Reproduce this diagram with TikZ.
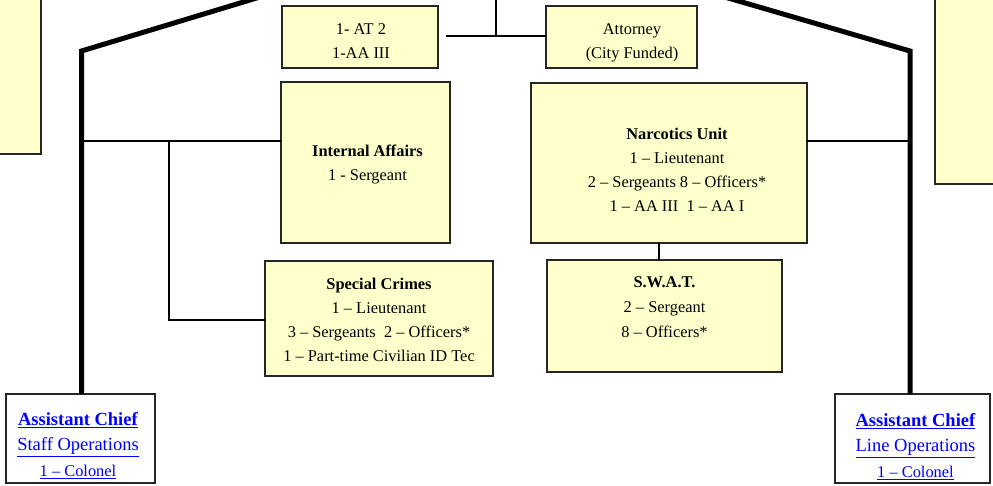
\documentclass[tikz,border=0pt]{standalone}
\usepackage{fontspec}
\setmainfont{Liberation Serif}
\definecolor{ylw}{HTML}{FFFFCC}
\definecolor{lnk}{HTML}{0000FF}
\tikzset{
  box/.style={draw=black!85, line width=1.8pt, fill=ylw, rectangle, inner sep=0pt, outer sep=0pt, anchor=north west},
  wbox/.style={box, fill=white},
  txt/.style={font=\fontsize{16.4}{24}\selectfont, align=center, inner sep=0pt, anchor=north},
  btxt/.style={font=\fontsize{18.5}{25.5}\selectfont, align=center, inner sep=0pt, anchor=north, text=lnk},
  heavy/.style={line width=5pt, black},
  conn/.style={line width=1.6pt, black}
}
\begin{document}
\begin{tikzpicture}[x=1pt,y=-1pt]
\useasboundingbox (0,0) rectangle (993,485);
\clip (0,0) rectangle (993,485);
% partial boxes at the edges
\node[box, minimum width=51pt, minimum height=164pt] (lb) at (-10,-10) {};
\node[box, minimum width=70pt, minimum height=194pt] (rb) at (935,-10) {};
% boxes
\node[box, minimum width=156pt, minimum height=62pt] (at) at (282,6) {};
\node[box, minimum width=151pt, minimum height=62pt] (atty) at (546,6) {};
\node[box, minimum width=169pt, minimum height=161pt] (ia) at (281,82) {};
\node[box, minimum width=276pt, minimum height=160pt] (narc) at (531,83) {};
\node[box, minimum width=235pt, minimum height=112pt] (swat) at (547,260) {};
\node[box, minimum width=228pt, minimum height=115pt] (sc) at (265,261) {};
\node[wbox, minimum width=149pt, minimum height=89pt] (acs) at (6,394) {};
\node[wbox, minimum width=155pt, minimum height=89pt] (acl) at (835,394) {};
% texts
\node[txt] (att) at (361,23.8) {1- AT 2\\1-AA III};
\node[txt] (attyt) at (632,23.8) {Attorney\\(City Funded)};
\node[txt] (iat) at (367.5,144.5) {\textbf{Internal Affairs}\\1 - Sergeant};
\node[txt] (narct) at (677,127.8) {\textbf{Narcotics Unit}\\1 -- Lieutenant\\2 -- Sergeants 8 -- Officers*\\1 -- AA III\ \ 1 -- AA I};
\node[txt] (sct) at (379,277.8) {\textbf{Special Crimes}\\1 -- Lieutenant\\3 -- Sergeants\ \ 2 -- Officers*\\1 -- Part-time Civilian ID Tec};
\node[txt, font=\fontsize{16.4}{25}\selectfont] (swatt) at (664.5,276.5) {\textbf{S.W.A.T.}\\2 -- Sergeant\\8 -- Officers*};
\node[btxt] (acst) at (78,412.2) {\underline{\textbf{Assistant Chief}}\\\underline{Staff Operations}\\{\fontsize{16.4}{24}\selectfont\underline{1 -- Colonel}}};
\node[btxt] (aclt) at (915.5,413.2) {\underline{\textbf{Assistant Chief}}\\\underline{Line Operations}\\{\fontsize{16.4}{24}\selectfont\underline{1 -- Colonel}}};
% heavy lines
\coordinate (lc) at (81.5,51);
\coordinate (lt) at (266.6,-5);
\coordinate (rc) at (910,51);
\coordinate (rt) at (717.8,-5);
\draw[heavy] (lt) -- (lc) -- (lc |- acs.north);
\draw[heavy] (rt) -- (rc) -- (rc |- acl.north);
% thin connectors
\coordinate (lj) at (81.5,141);
\coordinate (lb1) at (169,141);
\coordinate (lb2) at (169,320);
\draw[conn] (lj) -- (lj -| ia.west);
\draw[conn] (lb1) -- (lb2) -- (lb2 -| sc.west);
\coordinate (rj) at (910,141);
\draw[conn] (rj -| narc.east) -- (rj);
\coordinate (ns) at (659,200);
\draw[conn] (ns |- narc.south) -- (ns |- swat.north);
\coordinate (tt) at (496,-5);
\coordinate (tj) at (496,36);
\coordinate (ts) at (446,36);
\draw[conn] (tt) -- (tj);
\draw[conn] (ts) -- (ts -| atty.west);
\end{tikzpicture}
\end{document}
